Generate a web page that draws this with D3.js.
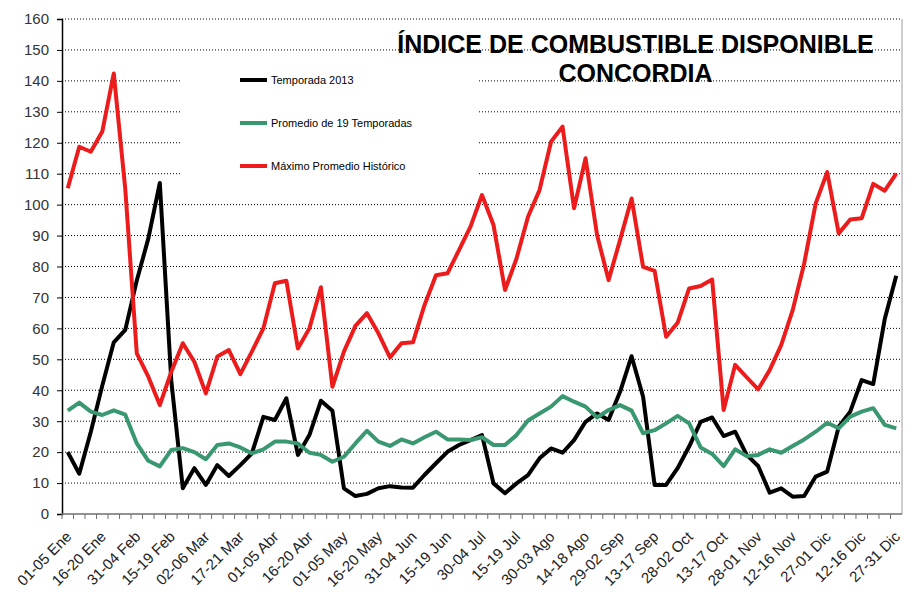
<!DOCTYPE html>
<meta charset="utf-8">
<script src="https://d3js.org/d3.v7.min.js"></script>
<style>
  body { margin: 0; background: #fff; }
  text { font-family: "Liberation Sans", Arial, sans-serif; }
</style>
<div id="chart"></div>
<script>

// pentadas del año (73), se rotula una de cada tres
const periods = [
  "01-05 Ene","06-10 Ene","11-15 Ene","16-20 Ene","21-25 Ene","26-30 Ene",
  "31-04 Feb","05-09 Feb","10-14 Feb","15-19 Feb","20-24 Feb","25-01 Mar",
  "02-06 Mar","07-11 Mar","12-16 Mar","17-21 Mar","22-26 Mar","27-31 Mar",
  "01-05 Abr","06-10 Abr","11-15 Abr","16-20 Abr","21-25 Abr","26-30 Abr",
  "01-05 May","06-10 May","11-15 May","16-20 May","21-25 May","26-30 May",
  "31-04 Jun","05-09 Jun","10-14 Jun","15-19 Jun","20-24 Jun","25-29 Jun",
  "30-04 Jul","05-09 Jul","10-14 Jul","15-19 Jul","20-24 Jul","25-29 Jul",
  "30-03 Ago","04-08 Ago","09-13 Ago","14-18 Ago","19-23 Ago","24-28 Ago",
  "29-02 Sep","03-07 Sep","08-12 Sep","13-17 Sep","18-22 Sep","23-27 Sep",
  "28-02 Oct","03-07 Oct","08-12 Oct","13-17 Oct","18-22 Oct","23-27 Oct",
  "28-01 Nov","02-06 Nov","07-11 Nov","12-16 Nov","17-21 Nov","22-26 Nov",
  "27-01 Dic","02-06 Dic","07-11 Dic","12-16 Dic","17-21 Dic","22-26 Dic",
  "27-31 Dic"
];

const yTicks = [0,10,20,30,40,50,60,70,80,90,100,110,120,130,140,150,160];

// Temporada 2013
const temporada2013 = [
  20, 13, 26.5, 41.5, 55.5, 59.5, 75.5, 89, 107, 43,
  8.3, 14.8, 9.4, 15.8, 12.3, 15.8, 19.6, 31.4, 30.4, 37.4,
  19.1, 25.5, 36.6, 33.4, 8.3, 5.8, 6.5, 8.3, 9.0, 8.6,
  8.5, 12.6, 16.4, 20.1, 22.3, 23.9, 25.5, 9.9, 6.7, 9.9,
  12.6, 18, 21.2, 19.8, 23.9, 29.8, 32.5, 30.4, 39.5, 51,
  37.9, 9.4, 9.4, 14.8, 21.8, 29.8, 31.2, 25.2, 26.6, 19.1,
  15.5, 6.9, 8.3, 5.6, 5.8, 12.1, 13.7, 28.2, 33.1, 43.3,
  42, 63, 77
];

// Promedio de 19 Temporadas
const promedio19 = [
  33.4, 36, 33.1, 32, 33.5, 32.1, 22.8, 17.2, 15.4, 20.7,
  21.3, 20, 17.7, 22.3, 22.8, 21.5, 19.6, 20.9, 23.4, 23.4,
  22.8, 19.8, 19.1, 16.9, 18.5, 22.8, 26.9, 23.4, 22, 24.1,
  22.8, 24.8, 26.6, 24.1, 24.1, 23.9, 24.8, 22.3, 22.3, 25.5,
  30.2, 32.5, 34.7, 38.1, 36.3, 34.7, 31.2, 33.6, 35.2, 33.4,
  26.1, 27.1, 29.3, 31.7, 29.3, 21.5, 19.4, 15.5, 20.9, 18.7,
  19.1, 20.9, 19.8, 22, 24.1, 26.6, 29.5, 27.7, 31.5, 33.1,
  34.2, 28.8, 27.7
];

// Máximo Promedio Histórico
const maximoHistorico = [
  105.3, 118.7, 117.1, 123.6, 142.4, 105, 51.9, 44.4, 35.2, 46,
  55.2, 49.2, 39, 50.9, 53, 45.2, 52.5, 60, 74.6, 75.4,
  53.5, 60, 73.3, 41.1, 52.5, 60.8, 64.9, 58.4, 50.6, 55.2,
  55.5, 67.5, 77.2, 77.8, 85.3, 92.9, 103.1, 93.4, 72.4, 82.6,
  96.1, 104.7, 120.3, 125.2, 98.8, 115, 90.2, 75.6, 88.6, 102,
  79.9, 78.6, 57.3, 61.8, 72.9, 73.7, 75.8, 33.6, 48.2, 44.2,
  40.3, 46.5, 54.6, 65.9, 81, 100.4, 110.5, 90.7, 95.2, 95.6,
  106.7, 104.5, 110
];

const series = [
  { name: "Temporada 2013", values: temporada2013, color: "#000000" },
  { name: "Promedio de 19 Temporadas", values: promedio19, color: "#3a9870" },
  { name: "Máximo Promedio Histórico", values: maximoHistorico, color: "#ec1c1c" }
];

const W = 907, H = 601;
const margin = { top: 19, right: 5, bottom: 87, left: 62 };

const svg = d3.select("#chart").append("svg")
  .attr("width", W).attr("height", H)
  .style("background", "#fff");

const x = d3.scaleBand()
  .domain(periods)
  .range([margin.left, W - margin.right]);

const y = d3.scaleLinear()
  .domain([0, 160])
  .range([H - margin.bottom, margin.top]);

const cx = d => x(d) + x.bandwidth() / 2;

// lineas de grilla punteadas
svg.append("g")
  .selectAll("line")
  .data(yTicks.filter(v => v > 0))
  .join("line")
  .attr("x1", margin.left).attr("x2", W - margin.right)
  .attr("y1", d => y(d)).attr("y2", d => y(d))
  .attr("stroke", "#000")
  .attr("stroke-width", 1)
  .attr("stroke-dasharray", "1,2");

// borde derecho
svg.append("line")
  .attr("x1", W - margin.right).attr("x2", W - margin.right)
  .attr("y1", y(160)).attr("y2", y(0))
  .attr("stroke", "#9a9a9a");

// eje Y
const yAxis = svg.append("g")
  .attr("transform", `translate(${margin.left},0)`)
  .call(d3.axisLeft(y).tickValues(yTicks).tickSize(5).tickPadding(8));
yAxis.select(".domain").attr("stroke", "#000").attr("stroke-width", 1.5);
yAxis.selectAll(".tick line").attr("stroke", "#000");
yAxis.selectAll("text")
  .attr("font-size", 15)
  .attr("fill", "#333");

// eje X: linea, marcas entre categorias y rotulos cada 3
svg.append("line")
  .attr("x1", margin.left).attr("x2", W - margin.right)
  .attr("y1", y(0)).attr("y2", y(0))
  .attr("stroke", "#6e6e6e").attr("stroke-width", 1.5);

svg.append("g")
  .selectAll("line")
  .data(periods)
  .join("line")
  .attr("x1", d => x(d)).attr("x2", d => x(d))
  .attr("y1", y(0)).attr("y2", y(0) + 5)
  .attr("stroke", "#6e6e6e");

svg.append("g")
  .selectAll("text")
  .data(periods.filter((d, i) => i % 3 === 0))
  .join("text")
  .attr("transform", d => `translate(${cx(d) + 1},${y(0) + 20}) rotate(-45)`)
  .attr("text-anchor", "end")
  .attr("dy", "0.35em")
  .attr("font-size", 15)
  .attr("fill", "#222")
  .text(d => d);

// series
const line = d3.line()
  .x((d, i) => cx(periods[i]))
  .y(d => y(d));

svg.append("g")
  .selectAll("path")
  .data(series)
  .join("path")
  .attr("fill", "none")
  .attr("stroke", d => d.color)
  .attr("stroke-width", 4)
  .attr("stroke-linejoin", "round")
  .attr("d", d => line(d.values));

// leyenda (caja blanca que tapa la grilla)
svg.append("rect")
  .attr("x", 182).attr("y", 62)
  .attr("width", 295).attr("height", 123)
  .attr("fill", "#fff");

const legend = svg.append("g")
  .selectAll("g")
  .data(series)
  .join("g")
  .attr("transform", (d, i) => `translate(240,${80 + i * 43})`);
legend.append("line")
  .attr("x1", 0).attr("x2", 27)
  .attr("stroke", d => d.color)
  .attr("stroke-width", 4);
legend.append("text")
  .attr("x", 31)
  .attr("dy", "0.35em")
  .attr("font-size", 11)
  .attr("fill", "#000")
  .text(d => d.name);

// titulo
const title = svg.append("text")
  .attr("text-anchor", "middle")
  .attr("font-size", 25)
  .attr("font-weight", "bold")
  .attr("fill", "#000");
title.append("tspan").attr("x", 635.5).attr("y", 53).text("ÍNDICE DE COMBUSTIBLE DISPONIBLE");
title.append("tspan").attr("x", 635.5).attr("y", 82).text("CONCORDIA");

</script>
